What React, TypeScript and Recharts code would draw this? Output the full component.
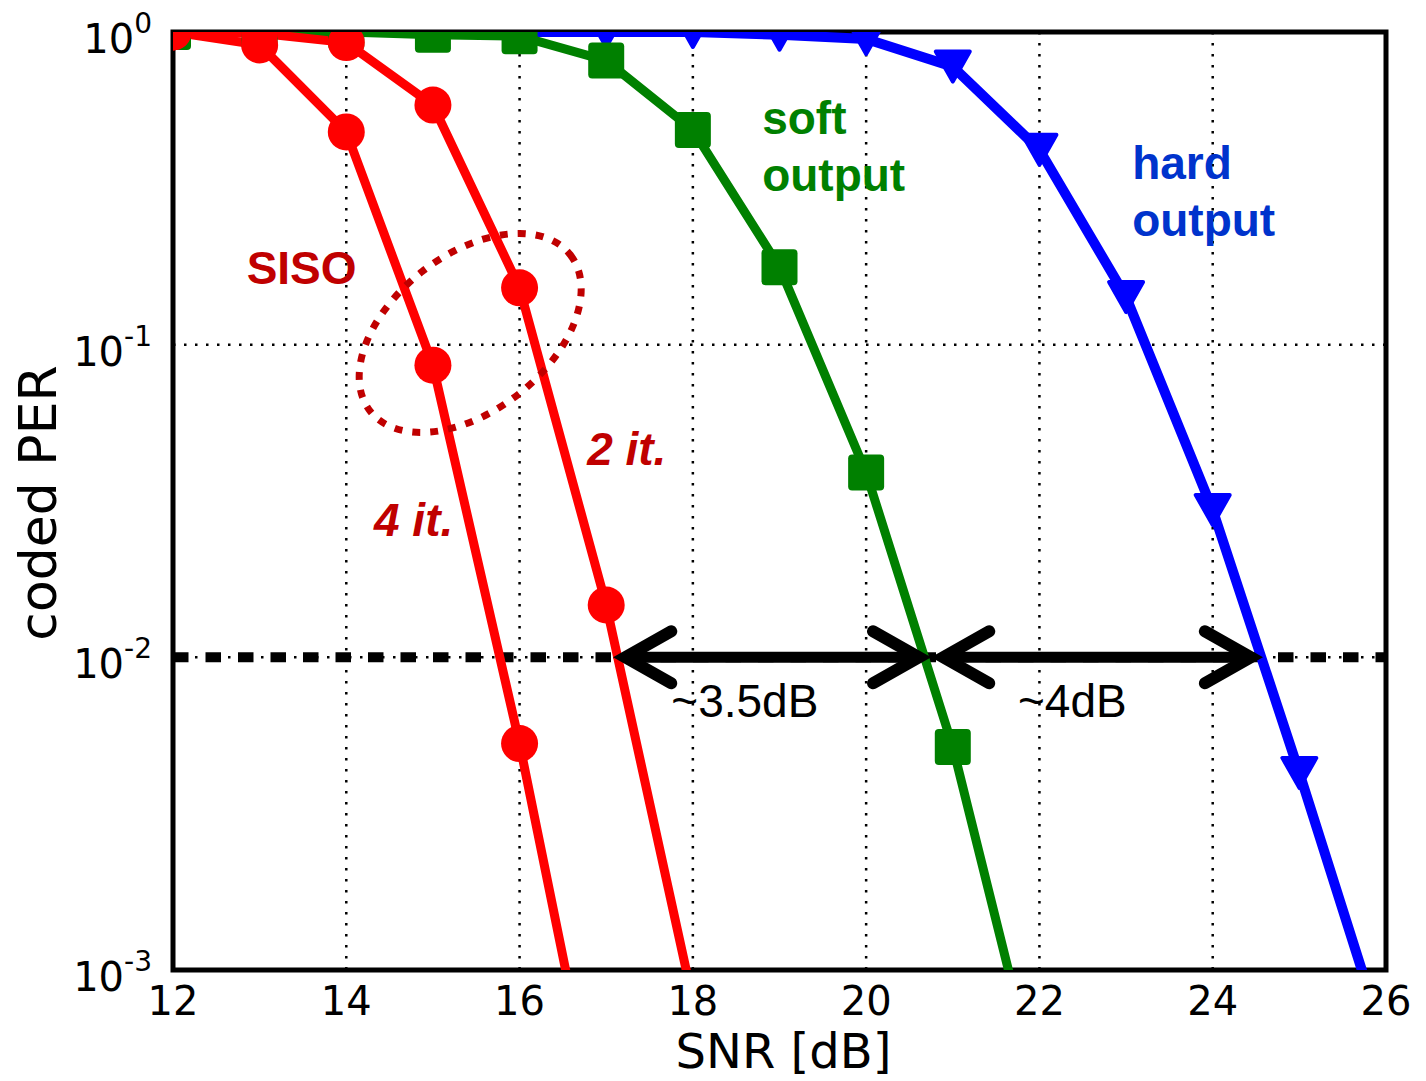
import React from 'react';
import { LineChart, Line, XAxis, YAxis, CartesianGrid, ReferenceLine, ReferenceDot, ReferenceArea } from 'recharts';

// SNR points [dB]
const snr = [12, 13, 14, 15, 16, 17, 18, 19, 20, 21, 22, 23, 24, 25, 26];
// coded PER (values below 1e-3 are clipped off the plot)
const siso4it = [1.0, 0.909, 0.479, 0.086, 0.0053, 0.00023, null, null, null, null, null, null, null, null, null];
const siso2it = [1.0, 0.99, 0.925, 0.584, 0.152, 0.0147, 0.0008, null, null, null, null, null, null, null, null];
const softOut = [1.0, 1.0, 1.0, 0.98, 0.97, 0.81, 0.486, 0.177, 0.039, 0.00517, 0.0004, null, null, null, null];
const hardOut = [1.0, 1.0, 1.0, 1.0, 1.0, 1.0, 1.0, 0.98, 0.95, 0.775, 0.42, 0.142, 0.0296, 0.00427, 0.00057];

const xTicks = [12, 14, 16, 18, 20, 22, 24, 26];
const yTicks = [0.001, 0.01, 0.1, 1];
const targetPER = 0.01;

// gap arrows at PER = 1e-2
const gaps = [
  { from: 17.22, to: 20.61, label: '~3.5dB', labelX: 18.6 },
  { from: 20.89, to: 24.44, label: '~4dB', labelX: 22.38 },
];
const gapLabelY = 0.00645;

const data = snr.map((s, i) => ({ snr: s, it4: siso4it[i], it2: siso2it[i], soft: softOut[i], hard: hardOut[i] }));

const RED = '#ff0000';
const GREEN = '#008000';
const BLUE = '#0000ff';
const DARKRED = '#c00000';
const TICKFONT = '"DejaVu Sans", sans-serif';
const ANNFONT = '"Liberation Sans", Arial, sans-serif';

const circleDot = (p: any) => {
  if (p.cx == null || p.cy == null) return <g key={`c${p.dataKey}${p.index}`} />;
  return <circle key={`c${p.dataKey}${p.index}`} cx={p.cx} cy={p.cy} r={18.5} fill={RED} />;
};
const squareDot = (p: any) => {
  if (p.cx == null || p.cy == null) return <g key={`s${p.index}`} />;
  return <rect key={`s${p.index}`} x={p.cx - 18} y={p.cy - 18} width={36} height={36} rx={4} fill={GREEN} />;
};
const triDot = (p: any) => {
  if (p.cx == null || p.cy == null) return <g key={`t${p.index}`} />;
  const { cx, cy } = p;
  return (
    <path
      key={`t${p.index}`}
      d={`M${cx - 17},${cy - 15} L${cx + 17},${cy - 15} L${cx},${cy + 15} Z`}
      fill={BLUE}
      stroke={BLUE}
      strokeWidth={4}
      strokeLinejoin="round"
    />
  );
};

const XTick = (p: any) => (
  <text x={p.x} y={p.y + 45} textAnchor="middle" fontFamily={TICKFONT} fontSize={40} fill="#000">
    {p.payload.value}
  </text>
);

const YTick = (p: any) => {
  const e = Math.round(Math.log10(p.payload.value));
  return (
    <text x={p.x - 21} y={p.y + 21} textAnchor="end" fontFamily={TICKFONT} fontSize={40} fill="#000">
      <tspan>10</tspan>
      <tspan fontSize={28} dy={-20}>{e}</tspan>
    </text>
  );
};

const arrowShape = (p: any) => {
  const { x1, y1, x2 } = p;
  const hx = 46;
  const hy = 26;
  return (
    <g>
      <line x1={x1 + 4} y1={y1} x2={x2 - 4} y2={y1} stroke="#000" strokeWidth={11} />
      <path d={`M${x1 + hx},${y1 - hy} L${x1},${y1} L${x1 + hx},${y1 + hy}`} fill="none" stroke="#000" strokeWidth={12} strokeLinecap="round" />
      <path d={`M${x2 - hx},${y1 - hy} L${x2},${y1} L${x2 - hx},${y1 + hy}`} fill="none" stroke="#000" strokeWidth={12} strokeLinecap="round" />
    </g>
  );
};

const textShape = (lines: string[], color: string, italic: boolean, anchor: 'start' | 'middle', size: number, bold = true) => (p: any) => (
  <text
    x={p.cx}
    y={p.cy}
    textAnchor={anchor}
    fontFamily={ANNFONT}
    fontWeight={bold ? 'bold' : 'normal'}
    fontStyle={italic ? 'italic' : 'normal'}
    fontSize={size}
    fill={color}
  >
    {lines.map((l, i) => (
      <tspan key={i} x={p.cx} dy={i === 0 ? 0 : 57}>
        {l}
      </tspan>
    ))}
  </text>
);

const ellipseShape = (p: any) => (
  <ellipse
    cx={p.cx}
    cy={p.cy}
    rx={127}
    ry={78}
    transform={`rotate(-38 ${p.cx} ${p.cy})`}
    fill="none"
    stroke={DARKRED}
    strokeWidth={7}
    strokeDasharray="8 10"
  />
);

export default function App() {
  return (
    <LineChart width={1410} height={1073} data={data} margin={{ top: 24, right: 32, bottom: 0, left: 0 }}>
      <CartesianGrid stroke="#000" strokeWidth={2.5} strokeDasharray="2.5 8.5" />
      <XAxis
        type="number"
        dataKey="snr"
        domain={[12, 26]}
        ticks={xTicks}
        allowDataOverflow
        tickLine={false}
        axisLine={false}
        tickSize={0}
        tickMargin={0}
        height={111}
        tick={<XTick />}
        label={{
          content: (p: any) => (
            <text x={p.viewBox.x + p.viewBox.width / 2 + 4} y={1060} textAnchor="middle" fontFamily={TICKFONT} fontSize={48} fill="#000">
              SNR [dB]
            </text>
          ),
        }}
      />
      <YAxis
        type="number"
        scale="log"
        domain={[0.001, 1]}
        ticks={yTicks}
        allowDataOverflow
        tickLine={false}
        axisLine={false}
        tickSize={0}
        tickMargin={0}
        width={165}
        tick={<YTick />}
        label={{
          content: () => (
            <text x={48} y={495} transform="rotate(-90 48 495)" textAnchor="middle" fontFamily={TICKFONT} fontSize={52} fill="#000">
              coded PER
            </text>
          ),
        }}
      />
      <ReferenceLine y={targetPER} stroke="#000" strokeWidth={10} strokeDasharray="15.5 17" />
      <Line dataKey="hard" stroke={BLUE} strokeWidth={10} dot={triDot} isAnimationActive={false} />
      <Line dataKey="soft" stroke={GREEN} strokeWidth={9} dot={squareDot} isAnimationActive={false} />
      <Line dataKey="it2" stroke={RED} strokeWidth={9} dot={circleDot} isAnimationActive={false} />
      <Line dataKey="it4" stroke={RED} strokeWidth={9} dot={circleDot} isAnimationActive={false} />
      {gaps.map((g) => (
        <ReferenceLine
          key={g.label}
          segment={[
            { x: g.from, y: targetPER },
            { x: g.to, y: targetPER },
          ]}
          shape={arrowShape}
        />
      ))}
      {gaps.map((g) => (
        <ReferenceDot key={`l${g.label}`} x={g.labelX} y={gapLabelY} shape={textShape([g.label], '#000', false, 'middle', 46, false)} />
      ))}
      <ReferenceDot x={15.43} y={0.109} shape={ellipseShape} />
      <ReferenceDot x={12.85} y={0.156} shape={textShape(['SISO'], DARKRED, false, 'start', 46)} />
      <ReferenceDot x={14.32} y={0.0244} shape={textShape(['4 it.'], DARKRED, true, 'start', 46)} />
      <ReferenceDot x={16.78} y={0.0411} shape={textShape(['2 it.'], DARKRED, true, 'start', 46)} />
      <ReferenceDot x={18.8} y={0.472} shape={textShape(['soft', 'output'], GREEN, false, 'start', 46)} />
      <ReferenceDot x={23.07} y={0.339} shape={textShape(['hard', 'output'], '#0033cc', false, 'start', 46)} />
      <ReferenceArea x1={12} x2={26} y1={0.001} y2={1} fill="none" stroke="#000" strokeWidth={5} ifOverflow="visible" />
    </LineChart>
  );
}
